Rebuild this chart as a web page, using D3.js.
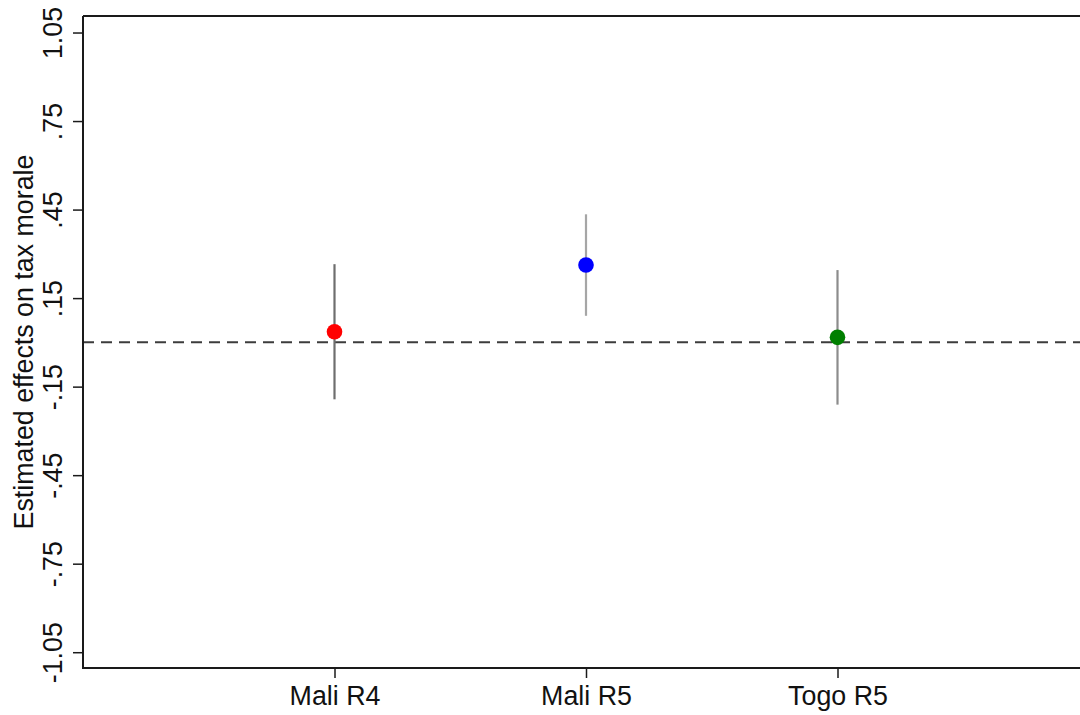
<!DOCTYPE html>
<html>
<head>
<meta charset="utf-8">
<script src="https://cdn.jsdelivr.net/npm/d3@7"></script>
<style>
  html, body { margin: 0; padding: 0; background: #fff; }
  svg { display: block; }
  text { font-family: "Liberation Sans", Arial, Helvetica, sans-serif; fill: #111; }
</style>
</head>
<body>
<svg id="chart" width="1080" height="715"></svg>
<script>
// Estimated effects with confidence intervals
const categories = ["Mali R4", "Mali R5", "Togo R5"];
const estimates  = [0.036, 0.262, 0.017];
const ciLower    = [-0.193, 0.090, -0.211];
const ciUpper    = [0.265, 0.434, 0.245];
const pointColors = ["#ff0000", "#0000ff", "#007f00"];
const barColors   = ["#6e6e6e", "#a6a6a6", "#8c8c8c"];
const yTicks      = [1.05, 0.75, 0.45, 0.15, -0.15, -0.45, -0.75, -1.05];
const yTickLabels = ["1.05", ".75", ".45", ".15", "-.15", "-.45", "-.75", "-1.05"];
const yTitle = "Estimated effects on tax morale";

const svg = d3.select("#chart");
const plotLeft = 83, plotRight = 1089, plotTop = 16, plotBottom = 668;
const fontSize = 26.8;

const x = d3.scaleLinear().domain([0, 4]).range([plotLeft, plotRight]);
const y = d3.scaleLinear().domain([-1.1035, 1.106]).range([plotBottom, plotTop]);

// frame: top line
svg.append("line")
  .attr("x1", plotLeft).attr("x2", 1080)
  .attr("y1", plotTop).attr("y2", plotTop)
  .attr("stroke", "#1a1a1a").attr("stroke-width", 2);

// reference line at zero
svg.append("line")
  .attr("x1", plotLeft).attr("x2", 1080)
  .attr("y1", y(0)).attr("y2", y(0))
  .attr("stroke", "#3c3c3c").attr("stroke-width", 2)
  .attr("stroke-dasharray", "11,7");

// y axis
const yAxis = d3.axisLeft(y)
  .tickValues(yTicks)
  .tickFormat((d, i) => yTickLabels[i])
  .tickSize(10)
  .tickSizeOuter(0);
const gy = svg.append("g").attr("transform", `translate(${plotLeft},0)`).call(yAxis);
gy.select(".domain").attr("stroke", "#1a1a1a").attr("stroke-width", 2)
  .attr("d", `M0,${plotTop}V${plotBottom + 1}`);
gy.selectAll(".tick line").attr("stroke", "#1a1a1a").attr("stroke-width", 1.5);
gy.selectAll(".tick text")
  .attr("x", null).attr("dy", null)
  .attr("font-size", fontSize)
  .attr("text-anchor", "middle")
  .attr("transform", "translate(-21,0) rotate(-90)")
  .style("font-family", "'Liberation Sans', Arial, Helvetica, sans-serif")
  .attr("fill", "#111");

// x axis
const xAxis = d3.axisBottom(x)
  .tickValues([1, 2, 3])
  .tickFormat((d, i) => categories[i])
  .tickSize(10)
  .tickSizeOuter(0);
const gx = svg.append("g").attr("transform", `translate(0,${plotBottom})`).call(xAxis);
gx.select(".domain").attr("stroke", "#1a1a1a").attr("stroke-width", 2)
  .attr("d", `M${plotLeft - 1},0H1080`);
gx.selectAll(".tick line").attr("stroke", "#1a1a1a").attr("stroke-width", 1.5);
gx.selectAll(".tick text")
  .attr("y", 37).attr("dy", null)
  .attr("font-size", fontSize)
  .style("font-family", "'Liberation Sans', Arial, Helvetica, sans-serif")
  .attr("fill", "#111");

// y axis title
svg.append("text")
  .attr("transform", `translate(33,${(plotTop + plotBottom) / 2}) rotate(-90)`)
  .attr("text-anchor", "middle")
  .attr("font-size", fontSize)
  .text(yTitle);

// confidence intervals
svg.append("g").selectAll("line")
  .data(categories)
  .join("line")
  .attr("x1", (d, i) => x(i + 1)).attr("x2", (d, i) => x(i + 1))
  .attr("y1", (d, i) => y(ciUpper[i])).attr("y2", (d, i) => y(ciLower[i]))
  .attr("stroke", (d, i) => barColors[i])
  .attr("stroke-width", 2.2);

// point estimates
svg.append("g").selectAll("circle")
  .data(categories)
  .join("circle")
  .attr("cx", (d, i) => x(i + 1))
  .attr("cy", (d, i) => y(estimates[i]))
  .attr("r", 7.8)
  .attr("fill", (d, i) => pointColors[i]);
</script>
</body>
</html>
